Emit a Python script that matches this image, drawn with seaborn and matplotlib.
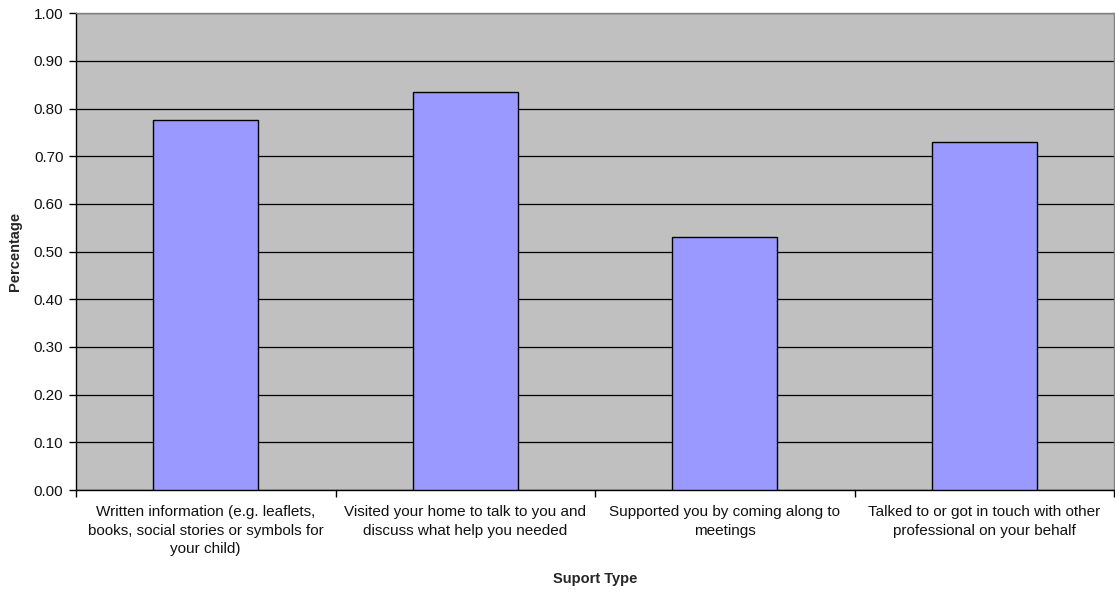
import matplotlib
matplotlib.use("Agg")
import matplotlib.pyplot as plt
import seaborn as sns
import pandas as pd
from matplotlib.ticker import FixedLocator, MultipleLocator, FormatStrFormatter

categories = [
    "Written information (e.g. leaflets,\nbooks, social stories or symbols for\nyour child)",
    "Visited your home to talk to you and\ndiscuss what help you needed",
    "Supported you by coming along to\nmeetings",
    "Talked to or got in touch with other\nprofessional on your behalf",
]
values = [0.777, 0.835, 0.530, 0.731]

df = pd.DataFrame({"Suport Type": categories, "Percentage": values})

sns.set_theme(style="white")
plt.rcParams["font.family"] = ["Liberation Sans", "DejaVu Sans"]

fig = plt.figure(figsize=(11.15, 5.92), dpi=100)
ax = fig.add_axes([76 / 1115, 1 - 490 / 592, (1114 - 76) / 1115, (490 - 13.3) / 592])
ax.set_facecolor("#C0C0C0")

sns.barplot(data=df, x="Suport Type", y="Percentage", color="#9999FF",
            saturation=1, width=0.405, edgecolor="black", linewidth=1.0,
            ax=ax, zorder=3)

ax.set_ylim(0, 1.0)
ax.set_xlim(-0.5, len(categories) - 0.5)
ax.yaxis.set_major_locator(MultipleLocator(0.1))
ax.yaxis.set_major_formatter(FormatStrFormatter("%.2f"))
ax.grid(axis="y", color="black", linewidth=0.9, zorder=1)
ax.set_axisbelow(True)

# category boundaries get the tick marks, centres carry the labels
ax.xaxis.set_major_locator(FixedLocator([i - 0.5 for i in range(len(categories) + 1)]))
ax.xaxis.set_minor_locator(FixedLocator(list(range(len(categories)))))
ax.set_xticklabels([])
ax.set_xticklabels(categories, minor=True)
ax.tick_params(axis="x", which="major", direction="out", length=5, width=1, color="black", bottom=True)
ax.tick_params(axis="x", which="minor", length=0, labelsize=11, pad=11, colors="#111111")
ax.tick_params(axis="y", direction="out", length=5, width=1, color="black", left=True,
               labelsize=11, pad=4, labelcolor="#111111")
for lbl in ax.get_xticklabels(minor=True):
    lbl.set_linespacing(1.4)

for side in ["left", "bottom"]:
    ax.spines[side].set_color("black")
    ax.spines[side].set_linewidth(1.0)
for side in ["top", "right"]:
    ax.spines[side].set_color("#808080")
    ax.spines[side].set_linewidth(1.0)
    ax.spines[side].set_visible(True)

ax.set_ylabel("Percentage", fontsize=10.5, fontweight="bold")
ax.set_xlabel("Suport Type", fontsize=10.5, fontweight="bold")
ax.yaxis.set_label_coords(-0.052, 0.5)
ax.xaxis.set_label_coords(0.5, -0.172)

fig.savefig("out.png", dpi=100, facecolor="white")
